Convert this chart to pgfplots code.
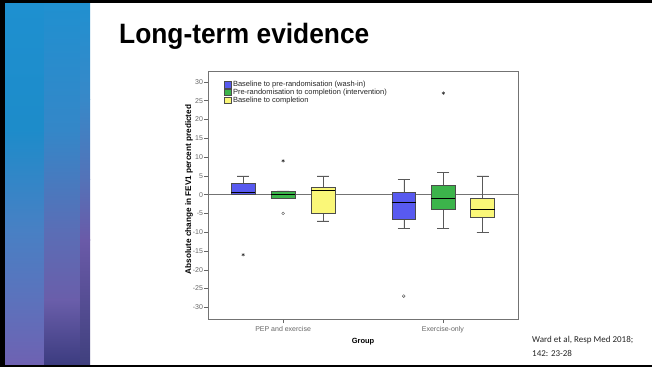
\documentclass[border=0pt]{standalone}
\usepackage{fontspec}
\setmainfont{Liberation Sans}
\newfontfamily\carlito{Carlito}
\usepackage{graphicx}
\usepackage{pgfplots}
\pgfplotsset{compat=1.18}
\usepgfplotslibrary{statistics}
\definecolor{blueC}{RGB}{88,90,240}
\definecolor{greenC}{RGB}{60,180,75}
\definecolor{yellowC}{RGB}{250,247,120}
\definecolor{sA}{HTML}{1E90D0}
\definecolor{sB}{HTML}{2090D0}
\begin{document}
\begin{tikzpicture}[x=1pt,y=1pt]
\path[use as bounding box, fill=white] (0,0) rectangle (652,367);
% sidebar: left strip
\shade[top color=sA, bottom color=sA!97!black] (5,237) rectangle (44,364);
\shade[top color=sA!97!black, bottom color={rgb,255:red,72;green,128;blue,196}] (5,137) rectangle (44,237.2);
\shade[top color={rgb,255:red,72;green,128;blue,196}, bottom color={rgb,255:red,92;green,114;blue,188}] (5,67) rectangle (44,137.2);
\shade[top color={rgb,255:red,92;green,114;blue,188}, bottom color={rgb,255:red,110;green,98;blue,178}] (5,3) rectangle (44,67.2);
% middle strip
\shade[top color=sB, bottom color={rgb,255:red,52;green,135;blue,200}] (44,237) rectangle (80,364);
\shade[top color={rgb,255:red,52;green,135;blue,200}, bottom color={rgb,255:red,90;green,110;blue,182}] (44,137) rectangle (80,237.2);
\shade[top color={rgb,255:red,90;green,110;blue,182}, bottom color={rgb,255:red,106;green,94;blue,170}] (44,67) rectangle (80,137.2);
\shade[top color={rgb,255:red,106;green,94;blue,170}, bottom color={rgb,255:red,60;green,60;blue,128}] (44,3) rectangle (80,67.2);
% right strip
\shade[top color=sB, bottom color={rgb,255:red,56;green,136;blue,200}] (80,267) rectangle (90,364);
\shade[top color={rgb,255:red,56;green,136;blue,200}, bottom color={rgb,255:red,84;green,114;blue,184}] (80,187) rectangle (90,267.2);
\shade[top color={rgb,255:red,84;green,114;blue,184}, bottom color={rgb,255:red,106;green,90;blue,168}] (80,127) rectangle (90,187.2);
\shade[top color={rgb,255:red,106;green,90;blue,168}, bottom color={rgb,255:red,64;green,64;blue,126}] (80,3) rectangle (90,127.2);
% frame
\fill[black] (0,0) rectangle (5,367);
\fill[black] (0,364) rectangle (652,367);
\fill[black] (0,0) rectangle (652,2.5);
% title
\node[anchor=base west, inner sep=0, font=\bfseries\fontsize{28}{30}\selectfont] at (119,323.7) {\scalebox{0.94}[1]{Long-term evidence}};
% citation
\node[anchor=base west, inner sep=0, text=black!85, font=\carlito\fontsize{9}{11}\selectfont] at (532,24.3) {Ward et al, Resp Med 2018;};
\node[anchor=base west, inner sep=0, text=black!85, font=\carlito\fontsize{9}{11}\selectfont] at (532,11) {142: 23-28};
\begin{axis}[
  at={(208pt,48pt)}, anchor=south west, scale only axis,
  width=310pt, height=248pt,
  xmin=0.53, xmax=2.47, ymin=-33.1, ymax=32.9,
  clip=false,
  axis line style={draw=black!55, line width=0.6pt},
  xtick={1,2}, xticklabels={PEP and exercise, Exercise-only},
  ytick={-30,-25,...,30},
  tick align=outside, xtick pos=bottom, ytick pos=left,
  major tick length=4pt,
  tick style={black!60, line width=0.5pt},
  ticklabel style={font=\fontsize{7}{8}\selectfont, text=black!60},
  yticklabel style={inner sep=0.8pt},
  /pgf/number format/assume math mode=true,
  boxplot/draw direction=y,
  boxplot/every median/.style={black, line width=0.9pt},
  boxplot/every whisker/.style={black!65, line width=0.5pt},
  legend style={at={(rel axis cs:0.052,0.962)}, anchor=north west, draw=none, fill=none,
    inner sep=0pt, font=\fontsize{7.5}{8}\selectfont, text=black!85, row sep=0pt,
    nodes={inner sep=0.4pt, text height=5.5pt, text depth=1.5pt},
    /tikz/every odd column/.append style={column sep=1.2pt}},
  legend cell align=left,
]
\addlegendimage{legend image code/.code={\draw[fill=blueC,draw=black!70,line width=0.4pt] (0pt,-3.3pt) rectangle (6.7pt,3.3pt);}}
\addlegendentry{Baseline to pre-randomisation (wash-in)}
\addlegendimage{legend image code/.code={\draw[fill=greenC,draw=black!70,line width=0.4pt] (0pt,-3.3pt) rectangle (6.7pt,3.3pt);}}
\addlegendentry{Pre-randomisation to completion (intervention)}
\addlegendimage{legend image code/.code={\draw[fill=yellowC,draw=black!70,line width=0.4pt] (0pt,-3.3pt) rectangle (6.7pt,3.3pt);}}
\addlegendentry{Baseline to completion}

\addplot[black!55, line width=0.5pt, forget plot] coordinates {(0.53,0) (2.47,0)};

% PEP and exercise
\addplot[forget plot, fill=blueC, draw=black!70, line width=0.5pt, boxplot prepared={draw position=0.75, lower whisker=0, lower quartile=0, median=0.6, upper quartile=3, upper whisker=5, box extend=0.15, whisker extend=0.075}] coordinates {};
\addplot[forget plot, fill=greenC, draw=black!70, line width=0.5pt, boxplot prepared={draw position=1, lower whisker=-1, lower quartile=-1, median=0, upper quartile=1, upper whisker=1, box extend=0.15, whisker extend=0.075}] coordinates {};
\addplot[forget plot, fill=yellowC, draw=black!70, line width=0.5pt, boxplot prepared={draw position=1.25, lower whisker=-7, lower quartile=-5, median=1, upper quartile=2, upper whisker=5, box extend=0.15, whisker extend=0.075}] coordinates {};
% Exercise-only
\addplot[forget plot, fill=blueC, draw=black!70, line width=0.5pt, boxplot prepared={draw position=1.755, lower whisker=-9, lower quartile=-6.5, median=-2, upper quartile=0.5, upper whisker=4, box extend=0.15, whisker extend=0.075}] coordinates {};
\addplot[forget plot, fill=greenC, draw=black!70, line width=0.5pt, boxplot prepared={draw position=2.003, lower whisker=-9, lower quartile=-4, median=-1, upper quartile=2.6, upper whisker=6, box extend=0.15, whisker extend=0.075}] coordinates {};
\addplot[forget plot, fill=yellowC, draw=black!70, line width=0.5pt, boxplot prepared={draw position=2.249, lower whisker=-10, lower quartile=-6, median=-4, upper quartile=-1, upper whisker=5, box extend=0.15, whisker extend=0.075}] coordinates {};

% outliers
\addplot[forget plot, only marks, mark=asterisk, mark size=1.7pt, black!80, line width=0.45pt] coordinates {(0.75,-16) (1,9) (2.003,27)};
\addplot[forget plot, only marks, mark=o, mark size=1.4pt, black!70, line width=0.4pt] coordinates {(1,-5) (1.755,-27)};

\node[rotate=90, font=\bfseries\fontsize{8.2}{9}\selectfont] at (rel axis cs:-0.061,0.522) {Absolute change in FEV1 percent predicted};
\node[font=\bfseries\fontsize{7.5}{9}\selectfont] at (rel axis cs:0.5,-0.0915) {Group};
\end{axis}
\end{tikzpicture}
\end{document}
